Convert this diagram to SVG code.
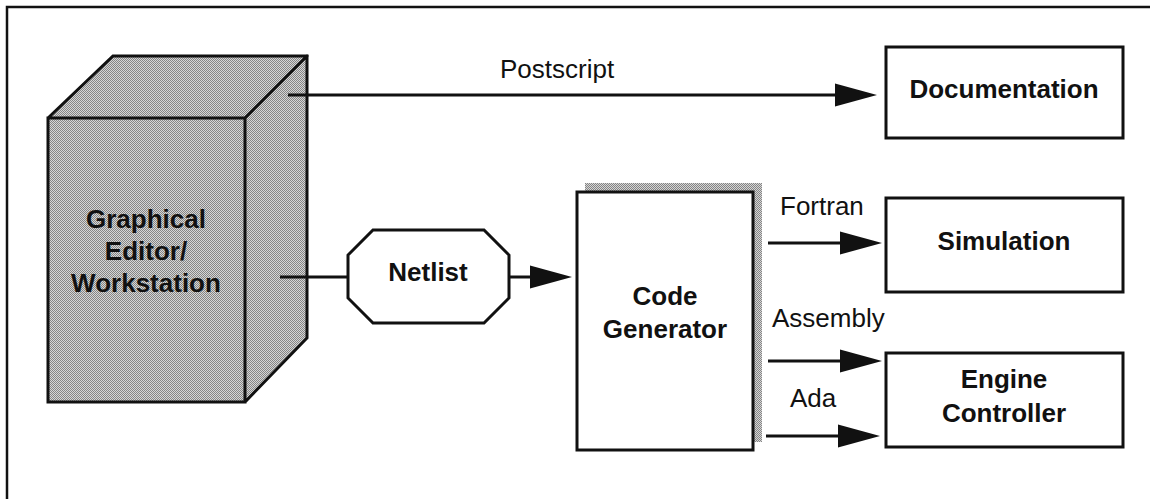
<svg xmlns="http://www.w3.org/2000/svg" width="1150" height="499" viewBox="0 0 1150 499">
  <style>
    .frame { fill: none; stroke: #111; stroke-width: 2.5; }
    .box { fill: #fff; stroke: #111; stroke-width: 3; }
    .shade { fill: url(#dither); stroke: none; }
    .outline { fill: none; stroke: #111; stroke-width: 3; stroke-linejoin: miter; stroke-linecap: square; }
    .edge { fill: none; stroke: #111; stroke-width: 3; }
    .title { font-family: "Liberation Sans", Arial, sans-serif; font-weight: bold; font-size: 26px; fill: #111; text-anchor: middle; }
    .label { font-family: "Liberation Sans", Arial, sans-serif; font-size: 26px; fill: #111; }
  </style>
  <defs>
    <!-- fine dot screen used for the shaded surfaces -->
    <pattern id="dither" width="2" height="2" patternUnits="userSpaceOnUse">
      <rect width="2" height="2" fill="#d6d6d6"/>
      <rect width="1" height="1" fill="#858585"/>
      <rect x="1" y="1" width="1" height="1" fill="#858585"/>
    </pattern>
    <marker id="head" markerWidth="43" markerHeight="24" refX="0" refY="12" orient="auto" markerUnits="userSpaceOnUse">
      <path d="M0,0.5 L42,12 L0,23.5 z" fill="#111"/>
    </marker>
  </defs>

  <rect width="1150" height="499" fill="#fff"/>
  <!-- page frame: top and left rule -->
  <path class="frame" d="M7,499 L7,7 L1150,7"/>

  <!-- workstation drawn as a solid block -->
  <g id="workstation">
    <polygon class="shade" points="48,118 113,56 307,56 307,338 245,402 48,402"/>
    <path class="outline" d="M48,118 L113,56 L307,56 L307,338 L245,402 L48,402 Z M48,118 L245,118 L307,56 M245,118 L245,402"/>
    <text class="title" x="146" y="228">Graphical</text>
    <text class="title" x="146" y="260">Editor/</text>
    <text class="title" x="146" y="292">Workstation</text>
  </g>

  <g id="netlist">
    <polygon class="box" points="373,230 484,230 509,255 509,298 484,323 373,323 348,298 348,255"/>
    <text class="title" x="428" y="281">Netlist</text>
  </g>

  <g id="code-generator">
    <rect x="585" y="183" width="177" height="259" fill="url(#dither)"/>
    <rect class="box" x="577" y="192" width="176" height="258"/>
    <text class="title" x="665" y="305">Code</text>
    <text class="title" x="665" y="338">Generator</text>
  </g>

  <g id="documentation">
    <rect class="box" x="886" y="47" width="237" height="91"/>
    <text class="title" x="1004" y="98">Documentation</text>
  </g>

  <g id="simulation">
    <rect class="box" x="886" y="198" width="237" height="94"/>
    <text class="title" x="1004" y="250">Simulation</text>
  </g>

  <g id="engine-controller">
    <rect class="box" x="886" y="353" width="237" height="94"/>
    <text class="title" x="1004" y="388">Engine</text>
    <text class="title" x="1004" y="422">Controller</text>
  </g>

  <g id="connectors">
    <line class="edge" x1="288" y1="95" x2="835" y2="95" marker-end="url(#head)"/>
    <text class="label" x="500" y="78">Postscript</text>

    <line class="edge" x1="280" y1="277" x2="348" y2="277"/>
    <line class="edge" x1="509" y1="277" x2="530" y2="277" marker-end="url(#head)"/>

    <line class="edge" x1="768" y1="243" x2="840" y2="243" marker-end="url(#head)"/>
    <text class="label" x="780" y="215">Fortran</text>

    <line class="edge" x1="768" y1="361" x2="840" y2="361" marker-end="url(#head)"/>
    <text class="label" x="772" y="327">Assembly</text>

    <line class="edge" x1="766" y1="436" x2="838" y2="436" marker-end="url(#head)"/>
    <text class="label" x="790" y="407">Ada</text>
  </g>
</svg>
